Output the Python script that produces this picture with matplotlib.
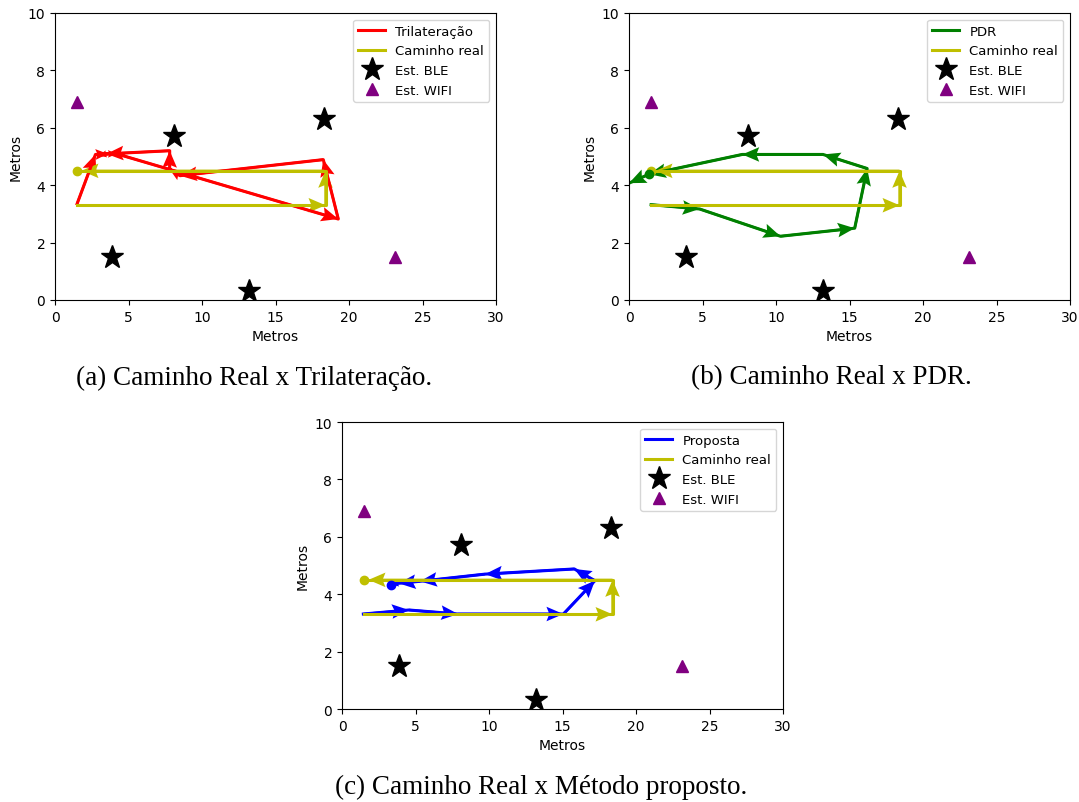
import numpy as np
import matplotlib.pyplot as plt

# estações
ble_x = [3.85, 8.1, 13.2, 18.3]
ble_y = [1.5, 5.7, 0.3, 6.3]
wifi_x = [1.5, 23.1]
wifi_y = [6.9, 1.5]

# caminho real
real_x = [1.5, 18.4, 18.4, 1.8, 1.5]
real_y = [3.3, 3.3, 4.5, 4.5, 4.5]

# trilateração
tri_x = [1.5, 2.75, 3.6, 4.2, 19.27, 18.25, 8.5, 7.8, 7.8, 3.5, 2.95]
tri_y = [3.35, 5.07, 5.09, 5.09, 2.82, 4.89, 4.33, 4.55, 5.2, 5.09, 5.03]

# PDR
pdr_x = [1.5, 4.8, 10.3, 15.35, 16.2, 13.2, 7.7, 1.35, 0.0]
pdr_y = [3.32, 3.17, 2.22, 2.5, 4.58, 5.07, 5.07, 4.38, 4.07]

# método proposto
prop_x = [1.45, 4.55, 7.9, 15.06, 17.2, 15.8, 9.73, 5.3, 3.85, 3.35]
prop_y = [3.31, 3.45, 3.31, 3.31, 4.47, 4.88, 4.7, 4.45, 4.38, 4.33]

# pontos marcados com bolinha
real_dot = (1.5, 4.5)
pdr_dot = (1.35, 4.38)
prop_dot = (3.35, 4.33)

captions = [
    "(a) Caminho Real x Trilateração.",
    "(b) Caminho Real x PDR.",
    "(c) Caminho Real x Método proposto.",
]


def draw_path(ax, x, y, color, label=None):
    x = np.array(x)
    y = np.array(y)
    ax.plot(x, y, color=color, lw=2.2, label=label)
    ax.quiver(x[:-1], y[:-1], np.diff(x), np.diff(y),
              angles="xy", scale_units="xy", scale=1, color=color,
              width=0.0055, headwidth=6, headlength=7,
              headaxislength=6)


def panel(ax, x, y, color, label, dot=None):
    draw_path(ax, x, y, color, label)
    draw_path(ax, real_x, real_y, "y", "Caminho real")
    ax.plot([real_dot[0]], [real_dot[1]], "o", color="y", ms=6)
    if dot is not None:
        ax.plot([dot[0]], [dot[1]], "o", color=color, ms=6)
    ax.plot(ble_x, ble_y, "k*", ms=17, ls="none", label="Est. BLE")
    ax.plot(wifi_x, wifi_y, "^", color="purple", ms=9, ls="none",
            label="Est. WIFI")
    ax.set_xlim(0, 30)
    ax.set_ylim(0, 10)
    ax.set_xlabel("Metros")
    ax.set_ylabel("Metros")
    ax.legend(loc="upper right", numpoints=1, fontsize=9.5)


fig = plt.figure(figsize=(10.79, 8.03), dpi=100)

ax1 = fig.add_axes([0.051, 0.6252, 0.4087, 0.3574])
ax2 = fig.add_axes([0.583, 0.6252, 0.4087, 0.3574])
ax3 = fig.add_axes([0.317, 0.1158, 0.4087, 0.3574])

panel(ax1, tri_x, tri_y, "r", "Trilateração")
panel(ax2, pdr_x, pdr_y, "g", "PDR", pdr_dot)
panel(ax3, prop_x, prop_y, "b", "Proposta", prop_dot)

cap_kw = dict(family="Liberation Serif", fontsize=19.5,
              ha="center", va="center")
fig.text(254 / 1079, 1 - 378 / 803, captions[0], **cap_kw)
fig.text(831 / 1079, 1 - 378 / 803, captions[1], **cap_kw)
fig.text(541 / 1079, 1 - 787 / 803, captions[2], **cap_kw)

fig.savefig("out.png", dpi=100)
